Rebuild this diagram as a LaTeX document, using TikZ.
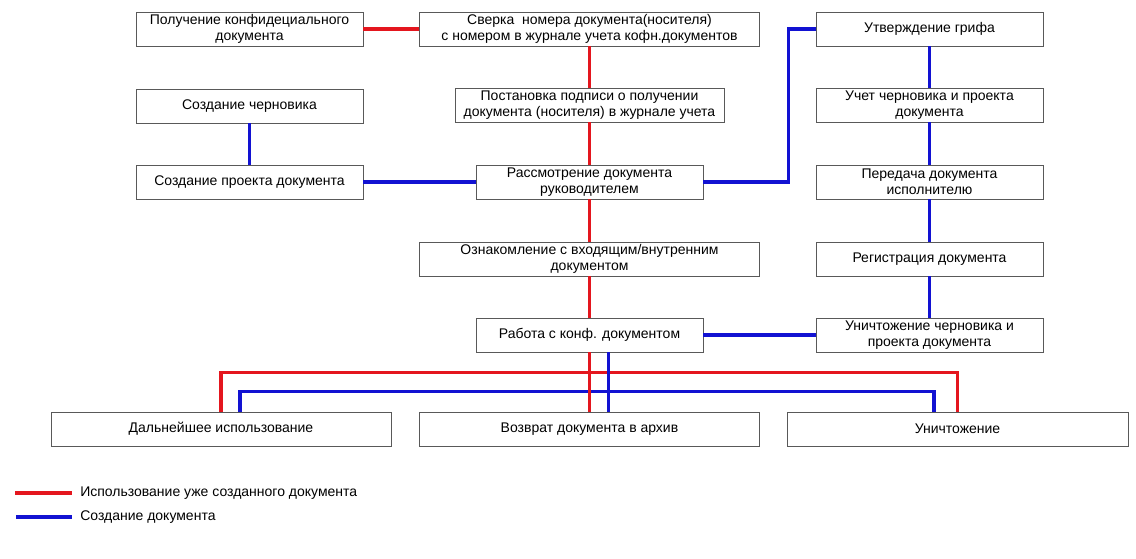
\documentclass[tikz,border=0pt]{standalone}
\usepackage{fontspec}
\setmainfont{Liberation Sans}
\usetikzlibrary{calc}
\definecolor{usedred}{RGB}{228,22,30}
\definecolor{newblue}{RGB}{18,18,210}

\begin{document}
\begin{tikzpicture}[x=0.75pt,y=-0.75pt,
   box/.style={draw=black!65,line width=0.7pt,fill=white,inner sep=0pt,align=center,
               minimum width=#1,minimum height=25.5pt,font=\fontsize{10.5}{12}\selectfont},
   box/.default=170.25pt,
   used/.style={usedred,line width=2.4pt},
   created/.style={newblue,line width=2.4pt},
   legend/.style={anchor=west,inner sep=0pt,font=\fontsize{10.5}{12}\selectfont}]
   \useasboundingbox (0,0) rectangle (1136,559);
   % left column
   \node[box] (get) at (249.5,29) {Получение конфидециального\\документа};
   \node[box] (draft) at (249.5,106) {Создание черновика};
   \node[box] (proj) at (249.5,182) {Создание проекта документа};
   % middle column
   \node[box=255pt] (check) at (589.5,29) {Сверка\ \ номера документа(носителя)\\с номером в журнале учета кофн.документов};
   \node[box=201.75pt] (sign) at (589.5,105) {Постановка подписи о получении\\документа (носителя) в журнале учета};
   \node[box] (review) at (589.5,182) {Рассмотрение документа\\руководителем};
   \node[box=255pt] (read) at (589.5,259) {Ознакомление с входящим/внутренним\\документом};
   \node[box] (work) at (589.5,335) {Работа с конф. документом};
   % right column
   \node[box] (stamp) at (929.5,29) {Утверждение грифа};
   \node[box] (acc) at (929.5,105) {Учет черновика и проекта\\документа};
   \node[box] (pass) at (929.5,182) {Передача документа\\исполнителю};
   \node[box] (reg) at (929.5,259) {Регистрация документа};
   \node[box] (destr) at (929.5,335) {Уничтожение черновика и\\проекта документа};
   % bottom row
   \node[box=255pt] (further) at (221,429) {Дальнейшее использование};
   \node[box=255pt] (archive) at (589.5,429) {Возврат документа в архив};
   \node[box=255.75pt] (destroy) at (957.5,429) {Уничтожение};

   \draw[used] (get) -- (check);
   \draw[used] (further.north) -- ++(0,-39) -| (destroy.north);
   \draw[created] ($(further.north)+(19,0)$) -- ++(0,-20) -| ($(destroy.north)+(-23.5,0)$);
   \draw[used] (check) -- (sign) -- (review) -- (read) -- (work) -- (archive);
   \draw[created] ($(work.south)+(19,0)$) -- ($(archive.north)+(19,0)$);
   \draw[created] (draft) -- (proj);
   \draw[created] (proj) -- (review);
   \draw[created] (review.east) -- ($(review.east)+(85,0)$) |- (stamp.west);
   \draw[created] (stamp) -- (acc) -- (pass) -- (reg) -- (destr);
   \draw[created] (work) -- (destr);

   % legend
   \node[legend] (lused) at (80,493) {Использование уже созданного документа};
   \node[legend] (lnew) at (80,517) {Создание документа};
   \coordinate (ru) at (15,493);
   \coordinate (bu) at (16,517);
   \draw[used] (ru) -- ($(lused.west)+(-8,0)$);
   \draw[created] (bu) -- ($(lnew.west)+(-8,0)$);
\end{tikzpicture}
\end{document}
